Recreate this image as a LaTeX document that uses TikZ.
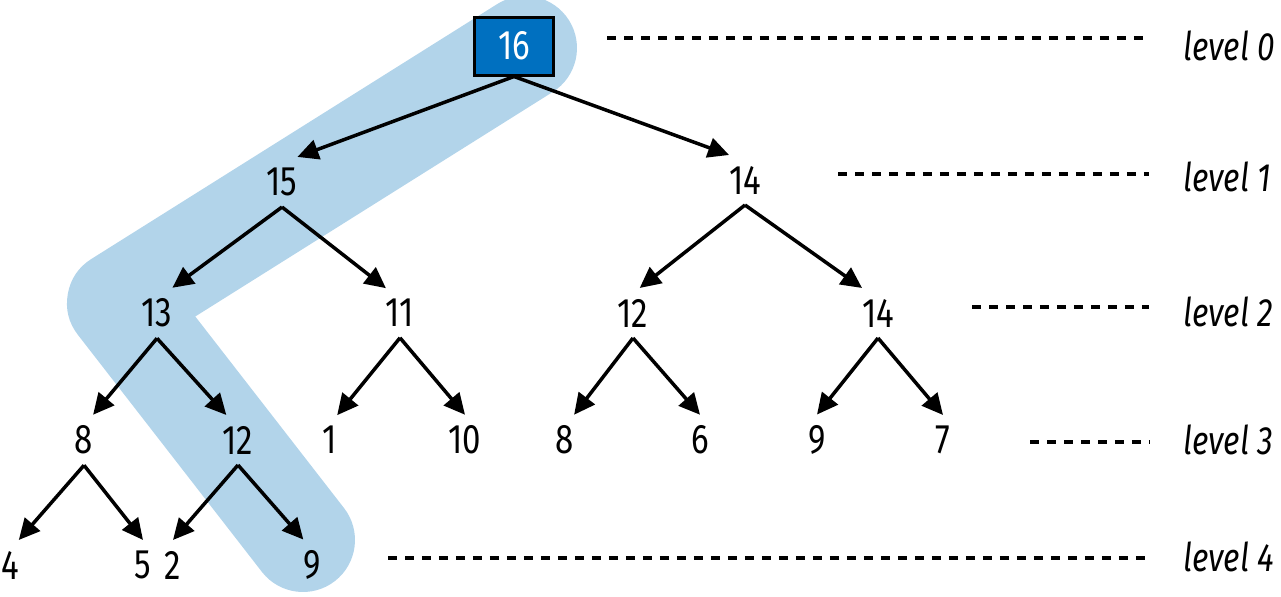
\documentclass[tikz,border=0pt]{standalone}
\usepackage{fontspec}
\setmainfont[FakeStretch=0.8]{Fira Sans}
\usepackage{tikz}
\usetikzlibrary{arrows.meta, positioning, calc}
\definecolor{pathblue}{RGB}{178,212,234}
\definecolor{rootblue}{RGB}{0,112,192}

\begin{document}
\begin{tikzpicture}[x=0.02cm, y=-0.02cm,
  val/.style={font=\fontsize{23.5pt}{26pt}\selectfont, inner xsep=0pt, inner ysep=0.22cm, outer sep=0pt},
  rootbox/.style={draw=black, line width=0.06cm, fill=rootblue, text=white, font=\fontsize{23.5pt}{26pt}\selectfont, minimum width=1.58cm, minimum height=1.16cm, inner sep=0pt},
  arr/.style={line width=0.07cm, -{Triangle[length=0.42cm, width=0.4cm]}},
  lvl/.style={font=\fontsize{22.5pt}{26pt}\selectfont\itshape, anchor=west, inner sep=0pt},
  lvlline/.style={line width=0.075cm, dash pattern=on 0.18cm off 0.16cm}]
\useasboundingbox (0,0) rectangle (1281,596);
% highlighted path 16 -> 15 -> 13 -> 12 -> 9
\draw[pathblue, line width=2.08cm, line cap=round, line join=round] (525,48) -- (119,303) -- (303,540);
% the tree
\node[rootbox] (n16) at (514,46) {16};
\node[val] (n15) at (282,182) {15};
\node[val] (n14a) at (745,180) {14};
\node[val] (n13) at (157,313) {13};
\node[val] (n11) at (400,313) {11};
\node[val] (n12b) at (633,313) {12};
\node[val] (n14b) at (878,313) {14};
\node[val] (n8a) at (84,440) {8};
\node[val] (n12a) at (238,440) {12};
\node[val] (n1) at (330,440) {1};
\node[val] (n10) at (465,440) {10};
\node[val] (n8b) at (565,440) {8};
\node[val] (n6) at (700,440) {6};
\node[val] (n9a) at (817,440) {9};
\node[val] (n7) at (943,440) {7};
\node[val] (n4) at (10,565) {4};
\node[val] (n5) at (143,565) {5};
\node[val] (n2) at (173,565) {2};
\node[val] (n9b) at (312,565) {9};
\draw[arr] (n16.south) -- (n15.north east);
\draw[arr] (n16.south) -- (n14a.north west);
\draw[arr] (n15.south) -- (n13.north east);
\draw[arr] (n15.south) -- (n11.north west);
\draw[arr] (n14a.south) -- (n12b.75);
\draw[arr] (n14a.south) -- (n14b.north west);
\draw[arr] (n13.south) -- (n8a.north east);
\draw[arr] (n13.south) -- (n12a.115);
\draw[arr] (n11.south) -- (n1.north east);
\draw[arr] (n11.south) -- (n10.north);
\draw[arr] (n12b.south) -- (n8b.north east);
\draw[arr] (n12b.south) -- (n6.north);
\draw[arr] (n14b.south) -- (n9a.north);
\draw[arr] (n14b.south) -- (n7.north);
\draw[arr] (n8a.south) -- (n4.north east);
\draw[arr] (n8a.south) -- (n5.north);
\draw[arr] (n12a.south) -- (n2.north);
\draw[arr] (n12a.south) -- (n9b.north west);
% levels
\node[lvl] (lv0) at (1183,46) {level 0};
\node[lvl] (lv1) at (1183,177) {level 1};
\node[lvl] (lv2) at (1183,312) {level 2};
\node[lvl] (lv3) at (1183,440) {level 3};
\node[lvl] (lv4) at (1183,557) {level 4};
\coordinate (d0) at (607,38);
\coordinate (d1) at (838,174);
\coordinate (d2) at (972,307);
\coordinate (d3) at (1030,442);
\coordinate (d4) at (388,558);
\foreach \i in {0,...,4}
  \draw[lvlline, shorten >=0.68cm] (d\i) -- (d\i -| lv\i.west);
\end{tikzpicture}
\end{document}
